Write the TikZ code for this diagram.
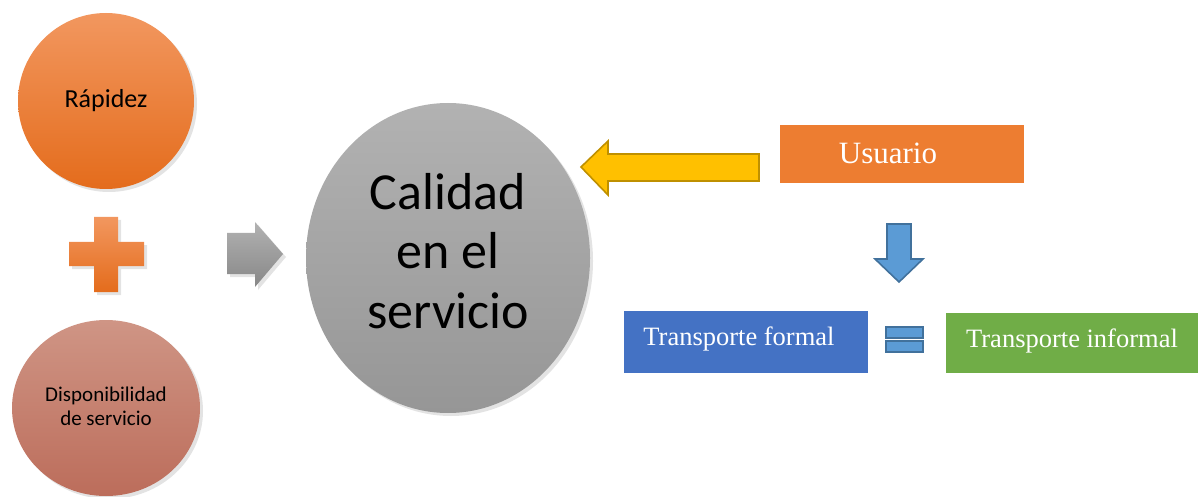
\documentclass[tikz,border=0pt]{standalone}
\usepackage{fontspec}
\setmainfont{Carlito}
\newfontfamily\timesfont{Liberation Serif}
\usepackage{tikz}
\usetikzlibrary{shadows}

\definecolor{naranjaArriba}{HTML}{F2975F}
\definecolor{naranjaAbajo}{HTML}{E46C1C}
\definecolor{rosaArriba}{HTML}{CF9585}
\definecolor{rosaAbajo}{HTML}{BC6D5B}
\definecolor{grisArriba}{HTML}{B2B2B2}
\definecolor{grisAbajo}{HTML}{969696}
\definecolor{amarillo}{HTML}{FFC000}
\definecolor{amarilloBorde}{HTML}{BF9000}
\definecolor{azulFlecha}{HTML}{5B9BD5}
\definecolor{azulBorde}{HTML}{41719C}
\definecolor{naranjaCaja}{HTML}{ED7D31}
\definecolor{azulCaja}{HTML}{4472C4}
\definecolor{verdeCaja}{HTML}{70AD47}

\tikzset{
  sombra/.style={drop shadow={opacity=0.22, shadow xshift=1.5pt, shadow yshift=-1.5pt}},
  caja/.style={font=\timesfont, text=white}
}

\begin{document}
\begin{tikzpicture}[x=0.5pt, y=-0.5pt]

        \useasboundingbox (0,0) rectangle (1198,497);

        %Rapidez
        \shade [sombra, top color=naranjaArriba, bottom color=naranjaAbajo] (106,101) ellipse [x radius=88, y radius=88];
        \node (rapidez) [anchor=base, font=\fontsize{13}{15}\selectfont] at (106,108) {Rápidez};

        %Suma
        \shade [sombra, top color=naranjaArriba, bottom color=naranjaAbajo] (94,217) -- (118,217) -- (118,242) -- (144,242) -- (144,266) -- (118,266) -- (118,292) -- (94,292) -- (94,266) -- (69,266) -- (69,242) -- (94,242) -- cycle;

        %Disponibilidad
        \shade [sombra, top color=rosaArriba, bottom color=rosaAbajo] (106,408) ellipse [x radius=94, y radius=88];
        \node (disponibilidad) [anchor=base, align=center, font=\fontsize{10.5}{11.7}\selectfont] at (106,425) {Disponibilidad\\de servicio};

        %Flecha gris
        \shade [sombra, top color=grisArriba, bottom color=grisAbajo!90!black] (227,233) -- (255,233) -- (255,222) -- (283,254) -- (255,287) -- (255,274) -- (227,274) -- cycle;

        %Calidad
        \shade [sombra, top color=grisArriba, bottom color=grisAbajo] (448,258) ellipse [x radius=142, y radius=155];
        \node (calidad) [anchor=base, align=center, font=\fontsize{26}{29.5}\selectfont] at (448,328) {Calidad\\en el\\servicio};

        %Flecha amarilla
        \draw [thick, fill=amarillo, draw=amarilloBorde] (759,154) -- (608,154) -- (608,141) -- (581,167) -- (608,195) -- (608,181) -- (759,181) -- cycle;

        %Usuario
        \fill [naranjaCaja] (780,125) rectangle (1024,183);
        \node (usuario) [caja, anchor=base, font=\timesfont\fontsize{15.5}{18}\selectfont] at (888,164) {Usuario};

        %Flecha azul
        \draw [thick, fill=azulFlecha, draw=azulBorde] (887,224) -- (911,224) -- (911,259) -- (923,259) -- (899,282) -- (875,259) -- (887,259) -- cycle;

        %Transporte formal
        \fill [azulCaja] (624,311) rectangle (868,373);
        \node (formal) [caja, anchor=base, font=\timesfont\fontsize{13.25}{16}\selectfont] at (739,345) {Transporte formal};

        %Igual
        \draw [thick, fill=azulFlecha, draw=azulBorde] (886,327) rectangle (923,338);
        \draw [thick, fill=azulFlecha, draw=azulBorde] (886,341) rectangle (923,352);

        %Transporte informal
        \fill [verdeCaja] (946,313) rectangle (1198,373);
        \node (informal) [caja, anchor=base, font=\timesfont\fontsize{13.25}{16}\selectfont] at (1072,347) {Transporte informal};

      \end{tikzpicture}
\end{document}
